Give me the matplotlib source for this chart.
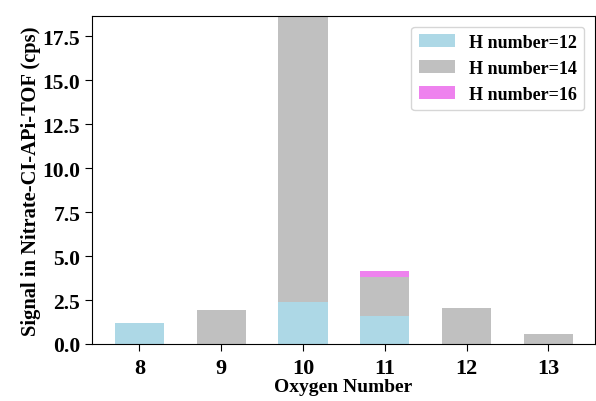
import numpy as np
import matplotlib
matplotlib.use("Agg")
import matplotlib.pyplot as plt

plt.rcParams['font.family'] = ['Liberation Serif', 'DejaVu Serif']
plt.rcParams['font.weight'] = 'bold'

oxygen = [8, 9, 10, 11, 12, 13]
h12 = [1.19, 0.0, 2.37, 1.61, 0.0, 0.0]
h14 = [0.0, 1.93, 18.0, 2.18, 2.03, 0.57]
h16 = [0.0, 0.0, 0.0, 0.37, 0.0, 0.0]

fig = plt.figure(figsize=(5.96, 4.02), dpi=100)
ax = fig.add_axes([92/596, 57/402, 503/596, 328/402])

h12 = np.array(h12)
h14 = np.array(h14)
h16 = np.array(h16)
ax.bar(oxygen, h12, width=0.6, color='lightblue', label='H number=12')
ax.bar(oxygen, h14, width=0.6, bottom=h12, color='silver', label='H number=14')
ax.bar(oxygen, h16, width=0.6, bottom=h12 + h14, color='violet', label='H number=16')

ax.set_xlim(7.42, 13.57)
ax.set_ylim(0, 18.65)
ax.set_xticks(oxygen)
ax.set_yticks(np.arange(0, 18, 2.5))
ax.tick_params(axis='x', labelsize=16, length=5, pad=5)
ax.tick_params(axis='y', labelsize=15.5, length=5)
for lab in ax.get_xticklabels() + ax.get_yticklabels():
    lab.set_fontweight('bold')
ax.set_xlabel('Oxygen Number', fontsize=14, fontweight='bold', labelpad=0)
ax.set_ylabel('Signal in Nitrate-CI-APi-TOF (cps)', fontsize=14.8, fontweight='bold', labelpad=1)
ax.legend(loc='upper right', prop={'size': 13, 'weight': 'bold'}, borderaxespad=0.6)

fig.savefig('out.png', dpi=100)
